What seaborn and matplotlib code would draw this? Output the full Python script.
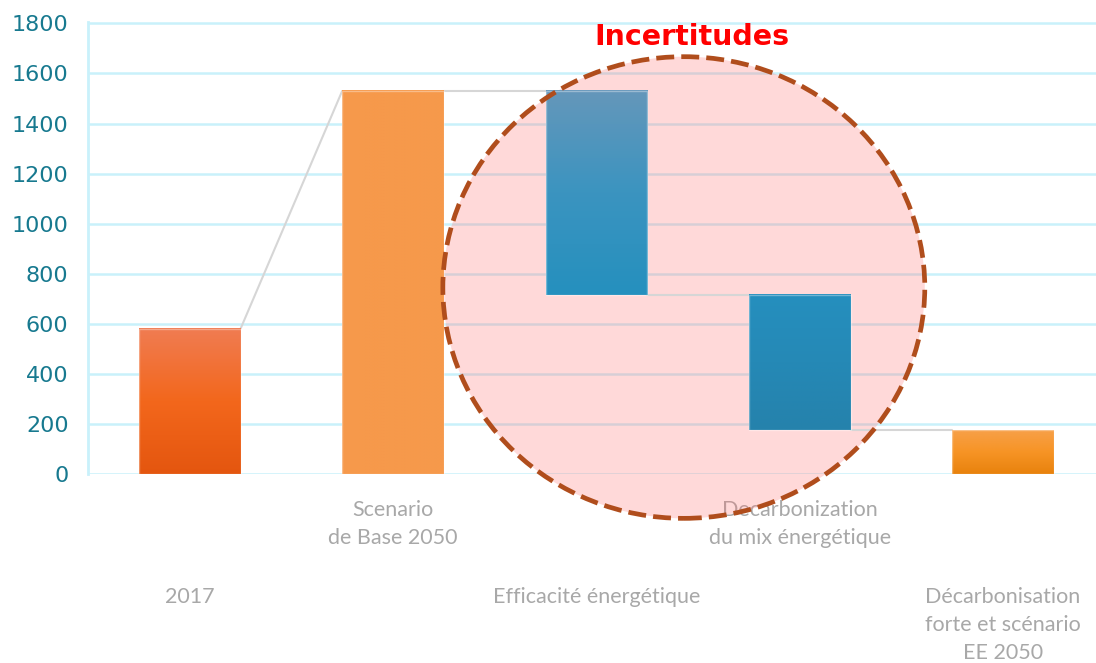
import numpy as np
import pandas as pd
import matplotlib
matplotlib.use("Agg")
import matplotlib.pyplot as plt
import seaborn as sns
from matplotlib.patches import Ellipse
from matplotlib.colors import LinearSegmentedColormap

# data
categories = ["2017", "Scenario\nde Base 2050", "Efficacité énergétique",
              "Decarbonization\ndu mix énergétique",
              "Décarbonisation\nforte et scénario\nEE 2050"]
bar_low = [0, 0, 715, 175, 0]
bar_high = [580, 1530, 1530, 715, 175]
y_ticks = [0, 200, 400, 600, 800, 1000, 1200, 1400, 1600, 1800]

# top / middle / bottom colours of each bar gradient
bar_colors = [
    ("#f07c52", "#f3671c", "#e4560f"),
    ("#f6994b", "#f6994b", "#f6994b"),
    ("#6597ba", "#3b94c0", "#2590be"),
    ("#268fbe", "#2589b6", "#2582ac"),
    ("#f7a048", "#f79425", "#e8820d"),
]

df = pd.DataFrame({"cat": categories, "low": bar_low, "high": bar_high})
df["size"] = df["high"] - df["low"]

sns.set_style("white")
plt.rcParams["font.family"] = ["DejaVu Sans"]

fig = plt.figure(figsize=(10.96, 6.63), dpi=100)
ax = fig.add_axes([88 / 1096, 0.285, 1008 / 1096, 0.682])

sns.barplot(data=df, x="cat", y="size", width=0.5, color="#f6994b",
            saturation=1, ax=ax, zorder=3)

# move floating bars and paint gradients
for i, (patch, low) in enumerate(zip(ax.patches, df["low"])):
    patch.set_y(low)
    x0 = patch.get_x()
    w = patch.get_width()
    top, mid, bot = bar_colors[i]
    cmap = LinearSegmentedColormap.from_list(f"g{i}", [bot, mid, top])
    grad = np.linspace(0, 1, 256).reshape(-1, 1)
    ax.imshow(grad, cmap=cmap, origin="lower", aspect="auto",
              extent=[x0, x0 + w, low, low + patch.get_height()], zorder=3)
    patch.set_facecolor("none")
    patch.set_edgecolor((1, 1, 1, 0.35))
    patch.set_linewidth(1)
    patch.set_zorder(3.5)

# connector lines between bars
conn = dict(color="#d6d6d6", lw=1.5, zorder=2.5)
half = 0.25
ax.plot([0 + half, 1 - half], [bar_high[0], bar_high[1]], **conn)
ax.plot([1 + half, 2 - half], [bar_high[1], bar_high[2]], **conn)
ax.plot([2 + half, 3 - half], [bar_low[2], bar_high[3]], **conn)
ax.plot([3 + half, 4 - half], [bar_low[3], bar_high[4]], **conn)

ax.set_xlim(-0.5, 4.457)
ax.set_ylim(0, 1806)
ax.set_yticks(y_ticks)
ax.yaxis.grid(True, color="#c9f1fb", lw=1.8)
ax.set_axisbelow(True)
for s in ["top", "right", "bottom"]:
    ax.spines[s].set_visible(False)
ax.spines["left"].set_color("#c9f1fb")
ax.spines["left"].set_linewidth(2)
ax.tick_params(axis="y", length=0, pad=14, labelsize=16, labelcolor="#17798f")
ax.tick_params(axis="x", length=0, labelsize=15.5, labelcolor="#a8a8a8")
ax.set_xlabel("")
ax.set_ylabel("")
for lab in ax.get_xticklabels():
    lab.set_fontfamily("Lato")
    lab.set_linespacing(1.5)
for i, t in enumerate(ax.xaxis.get_major_ticks()):
    t.set_pad(19 if i % 2 == 1 else 81.5)

# uncertainty circle: translucent fill below bars, dashed edge on top
center, cw, ch = (2.43, 745), 2.37, 1844
ax.add_patch(Ellipse(center, width=cw, height=ch,
                     facecolor=(1, 0.45, 0.45, 0.27), edgecolor="none",
                     zorder=2, clip_on=False))
ax.add_patch(Ellipse(center, width=cw, height=ch, facecolor="none",
                     edgecolor="#b04d1c", lw=3.4, ls=(0, (3.8, 1.5)),
                     zorder=4, clip_on=False))

ax.text(2.47, 1745, "Incertitudes", color="#ff0000", fontsize=20.5,
        fontweight="bold", ha="center", va="center", zorder=5)

fig.savefig("out.png", dpi=100)
